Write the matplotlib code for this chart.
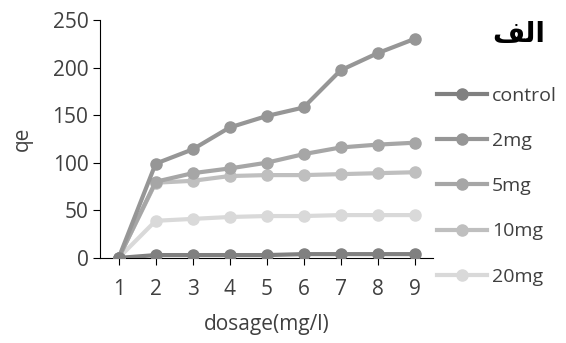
import matplotlib.pyplot as plt
import matplotlib

matplotlib.rcParams.update({'font.family': ['Open Sans', 'DejaVu Sans'], 'font.size': 15})

dosage = [1, 2, 3, 4, 5, 6, 7, 8, 9]
control = [0, 3, 3, 3, 3, 4, 4, 4, 4]
mg2 = [0, 99, 114, 137, 149, 158, 197, 215, 230]
mg5 = [0, 80, 89, 94, 100, 109, 116, 119, 121]
mg10 = [0, 79, 81, 86, 87, 87, 88, 89, 90]
mg20 = [0, 39, 41, 43, 44, 44, 45, 45, 45]

labels = ['control', '2mg', '5mg', '10mg', '20mg']
colors = ['#808080', '#969696', '#a6a6a6', '#bfbfbf', '#d9d9d9']
series = [control, mg2, mg5, mg10, mg20]

fig = plt.figure(figsize=(5.66, 3.43), dpi=100)
ax = fig.add_axes([0.177, 0.248, 0.588, 0.694])

# lightest first so the darker lines sit on top
for i in range(len(series) - 1, -1, -1):
    ax.plot(dosage, series[i], color=colors[i], linewidth=3, marker='o',
            markersize=8, label=labels[i], zorder=8 - i)

ax.set_xlim(0.5, 9.5)
ax.set_ylim(0, 250)
ax.set_xticks(dosage)
ax.set_yticks([0, 50, 100, 150, 200, 250])
ax.spines['top'].set_visible(False)
ax.spines['right'].set_visible(False)
ax.tick_params(axis='both', colors='black', labelcolor='#404040', labelsize=15, length=5)
ax.tick_params(axis='x', pad=10)
ax.set_xlabel('dosage(mg/l)', color='#404040', fontsize=15, labelpad=10)
ax.set_ylabel('qe', color='#404040', fontsize=15, labelpad=14)

handles, labs = ax.get_legend_handles_labels()
order = [labs.index(l) for l in labels]
leg = fig.legend([handles[k] for k in order], labels, loc='upper left',
                 bbox_to_anchor=(0.758, 0.77), frameon=False, fontsize=14,
                 handlelength=2.6, handletextpad=0.25, labelspacing=1.4,
                 borderaxespad=0)
for t in leg.get_texts():
    t.set_color('#404040')

# "الف" written with presentation forms in visual order (no shaping in matplotlib)
fig.text(0.917, 0.9, '\uFED2\uFEDF\uFE8D', family=['DejaVu Sans'],
         fontsize=20, fontweight='bold', ha='center', va='center')

fig.savefig('out.png', dpi=100)
